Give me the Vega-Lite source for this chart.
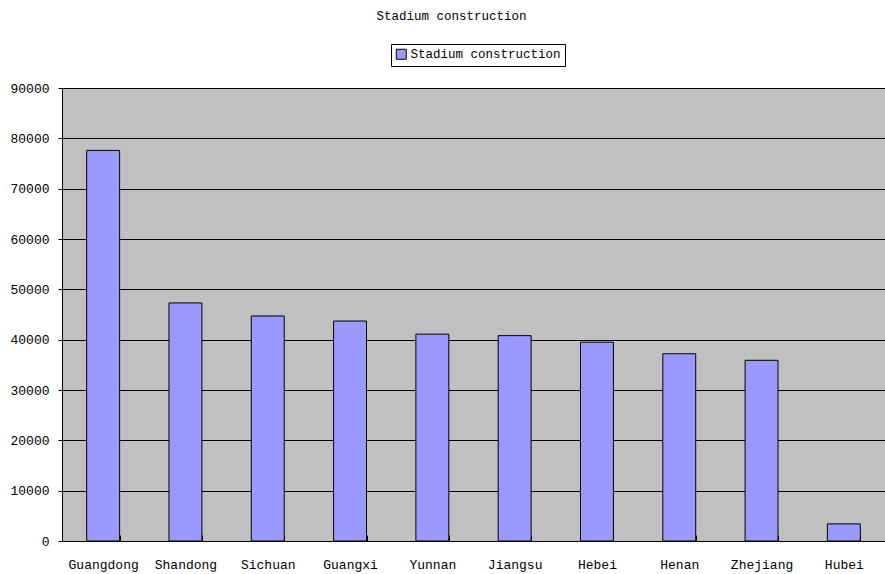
{
  "$schema": "https://vega.github.io/schema/vega-lite/v6.json",
  "width": 823,
  "height": 453,
  "autosize": {"type": "none"},
  "padding": {"left": 62, "top": 88, "right": 0, "bottom": 33},
  "background": "#FFFFFF",
  "title": {
    "text": "Stadium construction",
    "font": "Liberation Mono",
    "fontSize": 12.5,
    "fontWeight": "normal",
    "color": "#000000",
    "anchor": "middle",
    "dx": -22,
    "offset": 21
  },
  "config": {
    "view": {"fill": "#C0C0C0", "stroke": null},
    "font": "Liberation Mono"
  },
  "data": {
    "values": [
      {"province": "Guangdong", "value": 77600, "series": "Stadium construction"},
      {"province": "Shandong", "value": 47300, "series": "Stadium construction"},
      {"province": "Sichuan", "value": 44700, "series": "Stadium construction"},
      {"province": "Guangxi", "value": 43700, "series": "Stadium construction"},
      {"province": "Yunnan", "value": 41100, "series": "Stadium construction"},
      {"province": "Jiangsu", "value": 40800, "series": "Stadium construction"},
      {"province": "Hebei", "value": 39500, "series": "Stadium construction"},
      {"province": "Henan", "value": 37200, "series": "Stadium construction"},
      {"province": "Zhejiang", "value": 35900, "series": "Stadium construction"},
      {"province": "Hubei", "value": 3400, "series": "Stadium construction"}
    ]
  },
  "mark": {"type": "bar", "stroke": "#000000", "strokeWidth": 1},
  "encoding": {
    "x": {
      "field": "province",
      "type": "nominal",
      "sort": null,
      "scale": {"paddingInner": 0.6, "paddingOuter": 0.3},
      "axis": {
        "title": null,
        "labelAngle": 0,
        "labelFont": "Liberation Mono",
        "labelFontSize": 13,
        "labelColor": "#000000",
        "labelPadding": 23,
        "tickBand": "extent",
        "tickSize": -6,
        "tickColor": "#000000",
        "domainColor": "#000000",
        "domainWidth": 1,
        "grid": false
      }
    },
    "y": {
      "field": "value",
      "type": "quantitative",
      "scale": {"domain": [0, 90000], "nice": false},
      "axis": {
        "title": null,
        "format": "d",
        "values": [0, 10000, 20000, 30000, 40000, 50000, 60000, 70000, 80000, 90000],
        "labelFont": "Liberation Mono",
        "labelFontSize": 13,
        "labelColor": "#000000",
        "labelPadding": 9,
        "tickSize": 4,
        "tickColor": "#000000",
        "domainColor": "#000000",
        "grid": true,
        "gridColor": "#000000",
        "gridOpacity": 1,
        "gridWidth": 1
      }
    },
    "color": {
      "field": "series",
      "type": "nominal",
      "scale": {"range": ["#9999FF"]},
      "legend": {
        "title": null,
        "orient": "none",
        "legendX": 329,
        "legendY": -44,
        "symbolType": "square",
        "symbolSize": 100,
        "symbolStrokeColor": "#000000",
        "symbolStrokeWidth": 1,
        "labelFont": "Liberation Mono",
        "labelFontSize": 12.5,
        "labelColor": "#000000",
        "labelOffset": 3,
        "strokeColor": "#000000",
        "padding": 4,
        "fillColor": "#FFFFFF"
      }
    }
  }
}
